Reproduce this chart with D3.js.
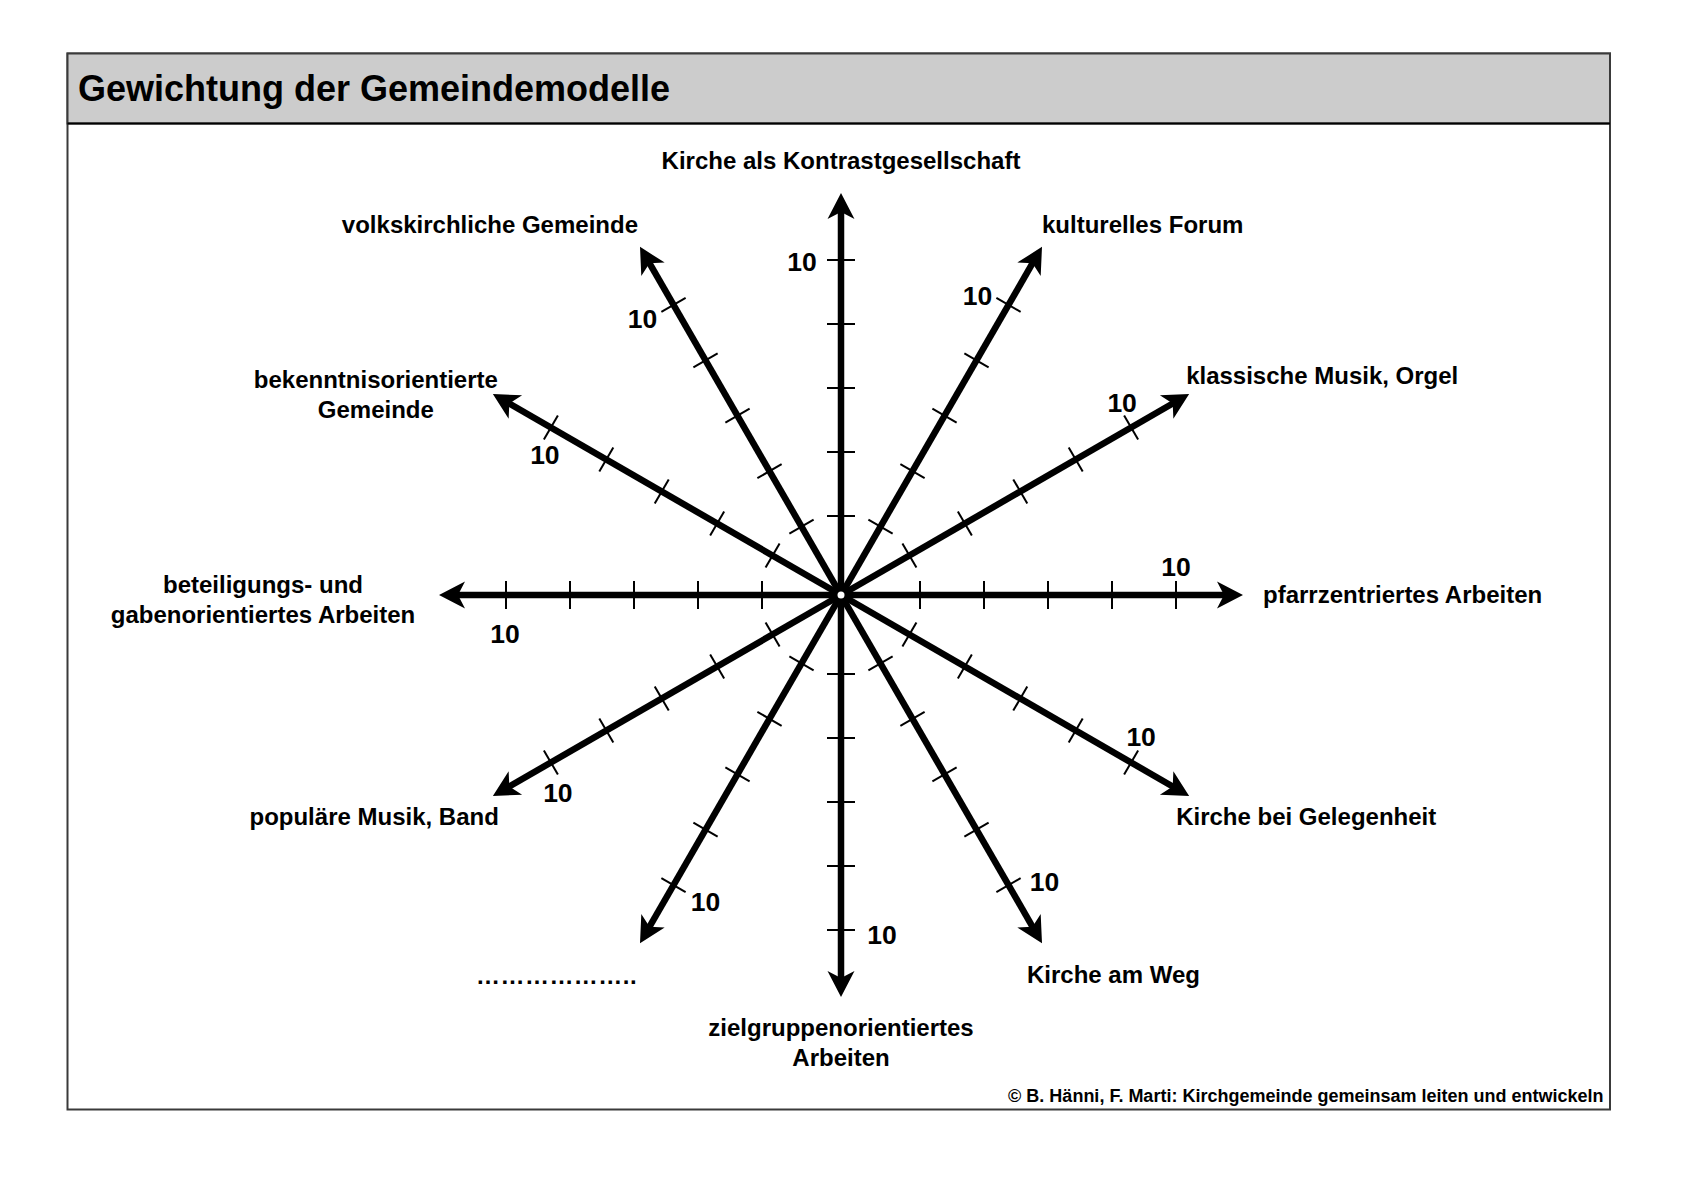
<!DOCTYPE html>
<html>
<head>
<meta charset="utf-8">
<script src="https://cdnjs.cloudflare.com/ajax/libs/d3/7.8.5/d3.min.js"></script>
<style>
  html, body { margin: 0; padding: 0; background: #ffffff; }
  svg { display: block; }
  text { font-family: "Liberation Sans", Arial, Helvetica, sans-serif; font-weight: bold; fill: #000; }
</style>
</head>
<body>
<svg id="chart" width="1684" height="1190"></svg>
<script>
// ---- data ----
const title = "Gewichtung der Gemeindemodelle";
const source = "\u00a9 B. H\u00e4nni, F. Marti: Kirchgemeinde gemeinsam leiten und entwickeln";
const categories = [
  ["Kirche als Kontrastgesellschaft"],
  ["kulturelles Forum"],
  ["klassische Musik, Orgel"],
  ["pfarrzentriertes Arbeiten"],
  ["Kirche bei Gelegenheit"],
  ["Kirche am Weg"],
  ["zielgruppenorientiertes", "Arbeiten"],
  ["\u2026\u2026\u2026\u2026\u2026\u2026.."],
  ["popul\u00e4re Musik, Band"],
  ["beteiligungs- und", "gabenorientiertes Arbeiten"],
  ["bekenntnisorientierte", "Gemeinde"],
  ["volkskirchliche Gemeinde"]
];
const tickValues = [2, 4, 6, 8, 10];
const maxValue = 10;
const labelledTicks = [10];

// ---- layout (category label positions relative to each arrow tip) ----
const labelLayout = [
  {anchor: "middle", dx: 0,    dy: -24},
  {anchor: "start",  dx: 0,    dy: -13.5},
  {anchor: "start",  dx: -3,   dy: -10},
  {anchor: "start",  dx: 20,   dy: 8},
  {anchor: "start",  dx: -13,  dy: 29},
  {anchor: "start",  dx: -15,  dy: 40},
  {anchor: "middle", dx: 0,    dy: 39},
  {anchor: "end",    dx: -3,   dy: 41, spacing: 0.45},
  {anchor: "end",    dx: 6,    dy: 29},
  {anchor: "middle", dx: -176, dy: -2},
  {anchor: "middle", dx: -117, dy: -6},
  {anchor: "end",    dx: -2,   dy: -13.5}
];
// tick-label offsets (centre of "10" relative to its tick)
const tickLabelLayout = [
  [-39, 1], [-31, -9], [-9, -25], [0, -29], [10, -26], [36, -4],
  [41, 4], [32, 16], [7, 30], [-1, 38], [-6, 27], [-31, 14]
];

const svg = d3.select("#chart");
const cx = 841, cy = 595;
const arrowLen = 402;
const lineH = 30;

// frame
const fx = 67.5, fy = 53.5, fw = 1542.5, fh = 1056;
svg.append("rect").attr("x", fx).attr("y", fy).attr("width", fw).attr("height", fh)
  .attr("fill", "#fff").attr("stroke", "#3a3a3a").attr("stroke-width", 2);
svg.append("rect").attr("x", fx).attr("y", fy).attr("width", fw).attr("height", 70)
  .attr("fill", "#cccccc").attr("stroke", "#3a3a3a").attr("stroke-width", 2);
svg.append("line").attr("x1", fx).attr("x2", fx + fw).attr("y1", fy + 70).attr("y2", fy + 70)
  .attr("stroke", "#000").attr("stroke-width", 2);

svg.append("text").attr("x", 78).attr("y", 101).attr("font-size", 36).text(title);
svg.append("text").attr("x", 1603.5).attr("y", 1102).attr("text-anchor", "end")
  .attr("font-size", 18).text(source);

// scales
const r = d3.scaleLinear().domain([0, maxValue]).range([15, 335]);
const angle = d3.scaleLinear().domain([0, categories.length]).range([0, 360]);

const axes = svg.append("g").attr("class", "axes");
categories.forEach((cat, i) => {
  const a = angle(i);
  const g = axes.append("g").attr("transform", `translate(${cx},${cy}) rotate(${a - 90})`);
  g.append("line").attr("x1", 0).attr("y1", 0).attr("x2", arrowLen - 16).attr("y2", 0)
    .attr("stroke", "#000").attr("stroke-width", 6.5);
  g.selectAll("line.tick").data(tickValues).enter().append("line")
    .attr("class", "tick")
    .attr("x1", d => r(d)).attr("x2", d => r(d))
    .attr("y1", -14).attr("y2", 14)
    .attr("stroke", "#000").attr("stroke-width", 2);
  g.append("path")
    .attr("d", `M${arrowLen},0 L${arrowLen - 26},-13.5 L${arrowLen - 19},0 L${arrowLen - 26},13.5 Z`)
    .attr("fill", "#000");

  const rad = a * Math.PI / 180;
  const ux = Math.sin(rad), uy = -Math.cos(rad);

  // tick label "10"
  labelledTicks.forEach(v => {
    const off = tickLabelLayout[i];
    const tx = cx + ux * r(v) + off[0];
    const ty = cy + uy * r(v) + off[1];
    svg.append("text").attr("x", tx).attr("y", ty + 9.5)
      .attr("text-anchor", "middle").attr("font-size", 26.5).text(String(v));
  });

  // category label
  const tipX = cx + ux * arrowLen, tipY = cy + uy * arrowLen;
  const L = labelLayout[i];
  const t = svg.append("text").attr("text-anchor", L.anchor).attr("font-size", 24);
  if (L.spacing) t.attr("letter-spacing", L.spacing);
  cat.forEach((line, j) => {
    t.append("tspan").attr("x", tipX + L.dx).attr("y", tipY + L.dy + j * lineH).text(line);
  });
});

// centre point
svg.append("circle").attr("cx", cx).attr("cy", cy).attr("r", 7).attr("fill", "#000");
svg.append("circle").attr("cx", cx).attr("cy", cy).attr("r", 3.5).attr("fill", "#fff");
</script>
</body>
</html>
